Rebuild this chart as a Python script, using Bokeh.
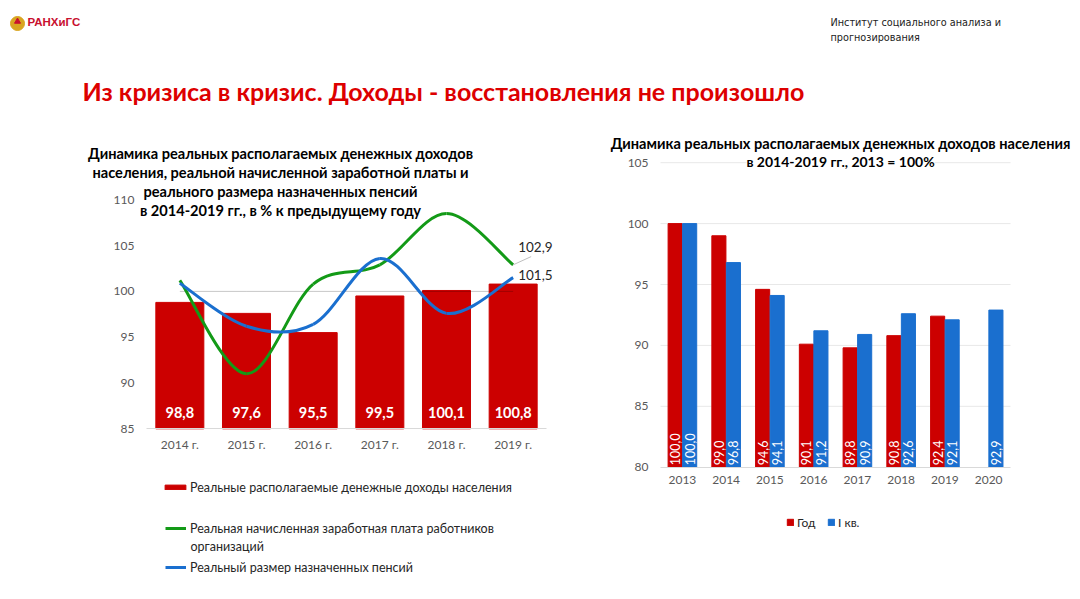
import math
from bokeh.plotting import figure
from bokeh.layouts import column, row
from bokeh.models import Range1d, FixedTicker, Legend, LegendItem, Label, ColumnDataSource
from bokeh.transform import dodge
from bokeh.core.properties import value
from bokeh.embed import file_html
from bokeh.resources import INLINE

# ---------------- data ----------------
left_years = ["2014 г.", "2015 г.", "2016 г.", "2017 г.", "2018 г.", "2019 г."]
income = [98.8, 97.6, 95.5, 99.5, 100.1, 100.8]
wages = [101.2, 91.0, 100.8, 102.9, 108.5, 102.9]
pensions = [100.9, 96.2, 96.4, 103.6, 97.6, 101.5]
baseline = [100, 100, 100, 100, 100, 100]
left_ticks = [85, 90, 95, 100, 105, 110]

right_years = ["2013", "2014", "2015", "2016", "2017", "2018", "2019", "2020"]
annual_years = ["2013", "2014", "2015", "2016", "2017", "2018", "2019"]
annual = [100.0, 99.0, 94.6, 90.1, 89.8, 90.8, 92.4]
q1 = [100.0, 96.8, 94.1, 91.2, 90.9, 92.6, 92.1, 92.9]
right_ticks = [80, 85, 90, 95, 100, 105]

RED = "#cc0000"
GREEN = "#139a17"
BLUE = "#1a6fcf"
FONT = "Lato"
TXT = "#262626"


def fmt(v):
    return f"{v:.1f}".replace(".", ",")


def smooth(vals):
    n = len(vals)
    xs = list(range(n))
    d = dict(x0=[], y0=[], x1=[], y1=[], cx0=[], cy0=[], cx1=[], cy1=[])
    for i in range(n - 1):
        a = i - 1 if i > 0 else i
        b = i + 2 if i + 2 < n else i + 1
        d["x0"].append(xs[i]); d["y0"].append(vals[i])
        d["x1"].append(xs[i + 1]); d["y1"].append(vals[i + 1])
        d["cx0"].append(xs[i] + (xs[i + 1] - xs[a]) / 6)
        d["cy0"].append(vals[i] + (vals[i + 1] - vals[a]) / 6)
        d["cx1"].append(xs[i + 1] - (xs[b] - xs[i]) / 6)
        d["cy1"].append(vals[i + 1] - (vals[b] - vals[i]) / 6)
    return ColumnDataSource(d)


def style_axis(ax):
    ax.major_label_text_font = FONT
    ax.major_label_text_font_size = "12px"
    ax.major_label_text_color = "#595959"
    ax.major_tick_line_color = None
    ax.minor_tick_line_color = None
    ax.major_tick_out = 0
    ax.major_tick_in = 0


W_TOTAL = 1072
H_HDR = 110
H_CH = 485

# ---------------- header ----------------
hdr = figure(width=W_TOTAL, height=H_HDR, x_range=Range1d(0, W_TOTAL), y_range=Range1d(H_HDR, 0),
             output_backend="svg", toolbar_location=None, min_border=0)
hdr.axis.visible = False
hdr.grid.visible = False
hdr.outline_line_color = None
hdr.scatter([17], [23], size=14, marker="circle", color="#d9a520")
hdr.scatter([17], [21], size=6, marker="triangle", color="#c8102e")
hdr.text([27], [21], text=["РАНХиГС"], text_font=value("Liberation Sans"), text_font_size="11.5px",
         text_font_style="bold", text_color="#c8102e", text_baseline="middle")
hdr.text([830, 830], [22, 37], text=["Институт социального анализа и", "прогнозирования"],
         text_font=value("DejaVu Sans"), text_font_size="9.7px", text_color="#222222",
         text_baseline="middle")
hdr.text([82], [90], text=["Из кризиса в кризис. Доходы - восстановления не произошло"],
         text_font=value(FONT), text_font_size="25px", text_font_style="bold",
         text_color="#dd0000", text_baseline="middle")

# ---------------- left chart ----------------
L_PX = 9.16
L_STEP = 400 / 6
L_X0 = 179.33


def ly(py):
    return 85 + (428.3 - py) / L_PX


def lx(px):
    return (px - L_X0) / L_STEP


lxs = list(range(len(left_years)))
lf = figure(width=580, height=H_CH, x_range=Range1d(lx(0), lx(580)),
            y_range=Range1d(ly(H_HDR + H_CH), ly(H_HDR)), output_backend="svg",
            toolbar_location=None, min_border=0)
lf.outline_line_color = None
lf.grid.visible = False
style_axis(lf.xaxis)
style_axis(lf.yaxis)
lf.yaxis.ticker = FixedTicker(ticks=left_ticks)
lf.yaxis.axis_line_color = None
lf.yaxis.fixed_location = -0.5
lf.yaxis.major_label_standoff = 12
lf.xaxis.ticker = FixedTicker(ticks=lxs)
lf.xaxis.major_label_overrides = {i: y for i, y in zip(lxs, left_years)}
lf.xaxis.fixed_location = 85
lf.xaxis.bounds = (-0.5, len(left_years) - 0.5)
lf.xaxis.axis_line_color = "#d9d9d9"
lf.xaxis.major_label_standoff = 8

bars = lf.vbar(x=lxs, top=income, bottom=85, width=0.72, color=RED)
lf.line(x=lxs, y=baseline, line_color="#000000", line_alpha=0.22, line_width=1)
lf.text(x=lxs, y=[85] * len(lxs), text=[fmt(v) for v in income], y_offset=-16,
        text_align="center", text_baseline="middle", text_color="white",
        text_font=value(FONT), text_font_size="14.5px", text_font_style="bold")
g_r = lf.bezier(source=smooth(wages), x0="x0", y0="y0", x1="x1", y1="y1", cx0="cx0", cy0="cy0",
                cx1="cx1", cy1="cy1", line_color=GREEN, line_width=3)
b_r = lf.bezier(source=smooth(pensions), x0="x0", y0="y0", x1="x1", y1="y1", cx0="cx0", cy0="cy0",
                cx1="cx1", cy1="cy1", line_color=BLUE, line_width=3)

last = lxs[-1]
lf.segment(x0=[last], y0=[wages[-1]], x1=[last + 0.27], y1=[wages[-1] + 0.9],
           line_color="#bfbfbf", line_width=1)
lf.text(x=[last, last], y=[wages[-1], pensions[-1]], text=[fmt(wages[-1]), fmt(pensions[-1])],
        x_offset=5, y_offset=[-18, -3], text_align="left", text_baseline="middle",
        text_color=TXT, text_font=value(FONT), text_font_size="13.5px")

l_title = ["Динамика реальных располагаемых денежных доходов",
           "населения, реальной начисленной заработной платы и",
           "реального размера назначенных пенсий",
           "в 2014-2019 гг., в % к предыдущему году"]
for t, py in zip(l_title, [153, 172, 191, 210]):
    lf.add_layout(Label(x=lx(280), y=ly(py), text=t, text_align="center", text_baseline="middle",
                        text_font=FONT, text_font_size="14.6px", text_font_style="bold",
                        text_color="#000000"))

leg_common = dict(padding=0, margin=0, border_line_alpha=0, background_fill_alpha=0,
                  label_text_font=FONT, label_text_font_size="12.5px", label_text_color=TXT,
                  label_height=16)
lf.add_layout(Legend(items=[LegendItem(label="Реальные располагаемые денежные доходы населения",
                                       renderers=[bars])],
                     location=(162, 100), glyph_width=26, glyph_height=6, label_standoff=2,
                     **leg_common))
lf.add_layout(Legend(items=[LegendItem(label="Реальная начисленная заработная плата работников",
                                       renderers=[g_r])],
                     location=(165, 59), glyph_width=21, glyph_height=16, label_standoff=4,
                     **leg_common))
lf.add_layout(Label(x=lx(190), y=ly(546), text="организаций", text_align="left",
                    text_baseline="middle", text_font=FONT, text_font_size="12.5px",
                    text_color=TXT))
lf.add_layout(Legend(items=[LegendItem(label="Реальный размер назначенных пенсий",
                                       renderers=[b_r])],
                     location=(165, 20), glyph_width=21, glyph_height=16, label_standoff=4,
                     **leg_common))

# ---------------- right chart ----------------
R_PX = 12.18
R_STEP = 43.75
R_X0 = 681.9


def ry(py):
    return 80 + (466.7 - py) / R_PX


def rx(px):
    return (px - R_X0) / R_STEP


rxs = list(range(len(right_years)))
axs = list(range(len(annual_years)))
rf = figure(width=W_TOTAL - 580, height=H_CH, x_range=Range1d(rx(580), rx(W_TOTAL)),
            y_range=Range1d(ry(H_HDR + H_CH), ry(H_HDR)), output_backend="svg",
            toolbar_location=None, min_border=0)
rf.outline_line_color = None
rf.grid.visible = False
style_axis(rf.xaxis)
style_axis(rf.yaxis)
rf.yaxis.ticker = FixedTicker(ticks=right_ticks)
rf.yaxis.axis_line_color = None
rf.yaxis.fixed_location = -0.5
rf.yaxis.major_label_standoff = 12
rf.xaxis.ticker = FixedTicker(ticks=rxs)
rf.xaxis.major_label_overrides = {i: y for i, y in zip(rxs, right_years)}
rf.xaxis.fixed_location = 80
rf.xaxis.bounds = (-0.5, len(right_years) - 0.5)
rf.xaxis.axis_line_color = "#d9d9d9"
rf.xaxis.major_label_standoff = 9

rf.segment(x0=[-0.5] * 5, x1=[len(right_years) - 0.5] * 5, y0=right_ticks[1:], y1=right_ticks[1:],
           line_color="#e8e8e8", line_width=1)

src_a = ColumnDataSource(dict(x=axs, v=annual, lab=[fmt(v) for v in annual],
                              base=[80] * len(annual)))
src_q = ColumnDataSource(dict(x=rxs, v=q1, lab=[fmt(v) for v in q1],
                              base=[80] * len(q1)))
ra = rf.vbar(x=dodge("x", -0.166), top="v", bottom=80, width=0.322, color=RED, source=src_a)
rq = rf.vbar(x=dodge("x", 0.166), top="v", bottom=80, width=0.322, color=BLUE, source=src_q)
for s, off in ((src_a, -0.166), (src_q, 0.166)):
    rf.text(x=dodge("x", off), y="base", text="lab", source=s,
            angle=math.pi / 2, y_offset=-2, text_align="left", text_baseline="middle",
            text_color="white", text_font=value(FONT), text_font_size="12.5px")

r_title = ["Динамика реальных располагаемых денежных доходов населения",
           "в 2014-2019 гг., 2013 = 100%"]
for t, py, fs in zip(r_title, [143, 161], ["14.6px", "14px"]):
    rf.add_layout(Label(x=rx(840), y=ry(py), text=t, text_align="center", text_baseline="middle",
                        text_font=FONT, text_font_size=fs, text_font_style="bold",
                        text_color="#000000", background_fill_color="white"))

rf.add_layout(Legend(items=[LegendItem(label="Год", renderers=[ra]),
                            LegendItem(label="I кв.", renderers=[rq])],
                     orientation="horizontal", location=(206, 65), glyph_width=8, glyph_height=8,
                     label_standoff=3, spacing=10, padding=0, margin=0, border_line_alpha=0,
                     background_fill_alpha=0, label_text_font=FONT, label_text_font_size="12px",
                     label_text_color=TXT, label_height=16))

page = column(hdr, row(lf, rf))
open("out.html", "w").write(file_html(page, INLINE))
